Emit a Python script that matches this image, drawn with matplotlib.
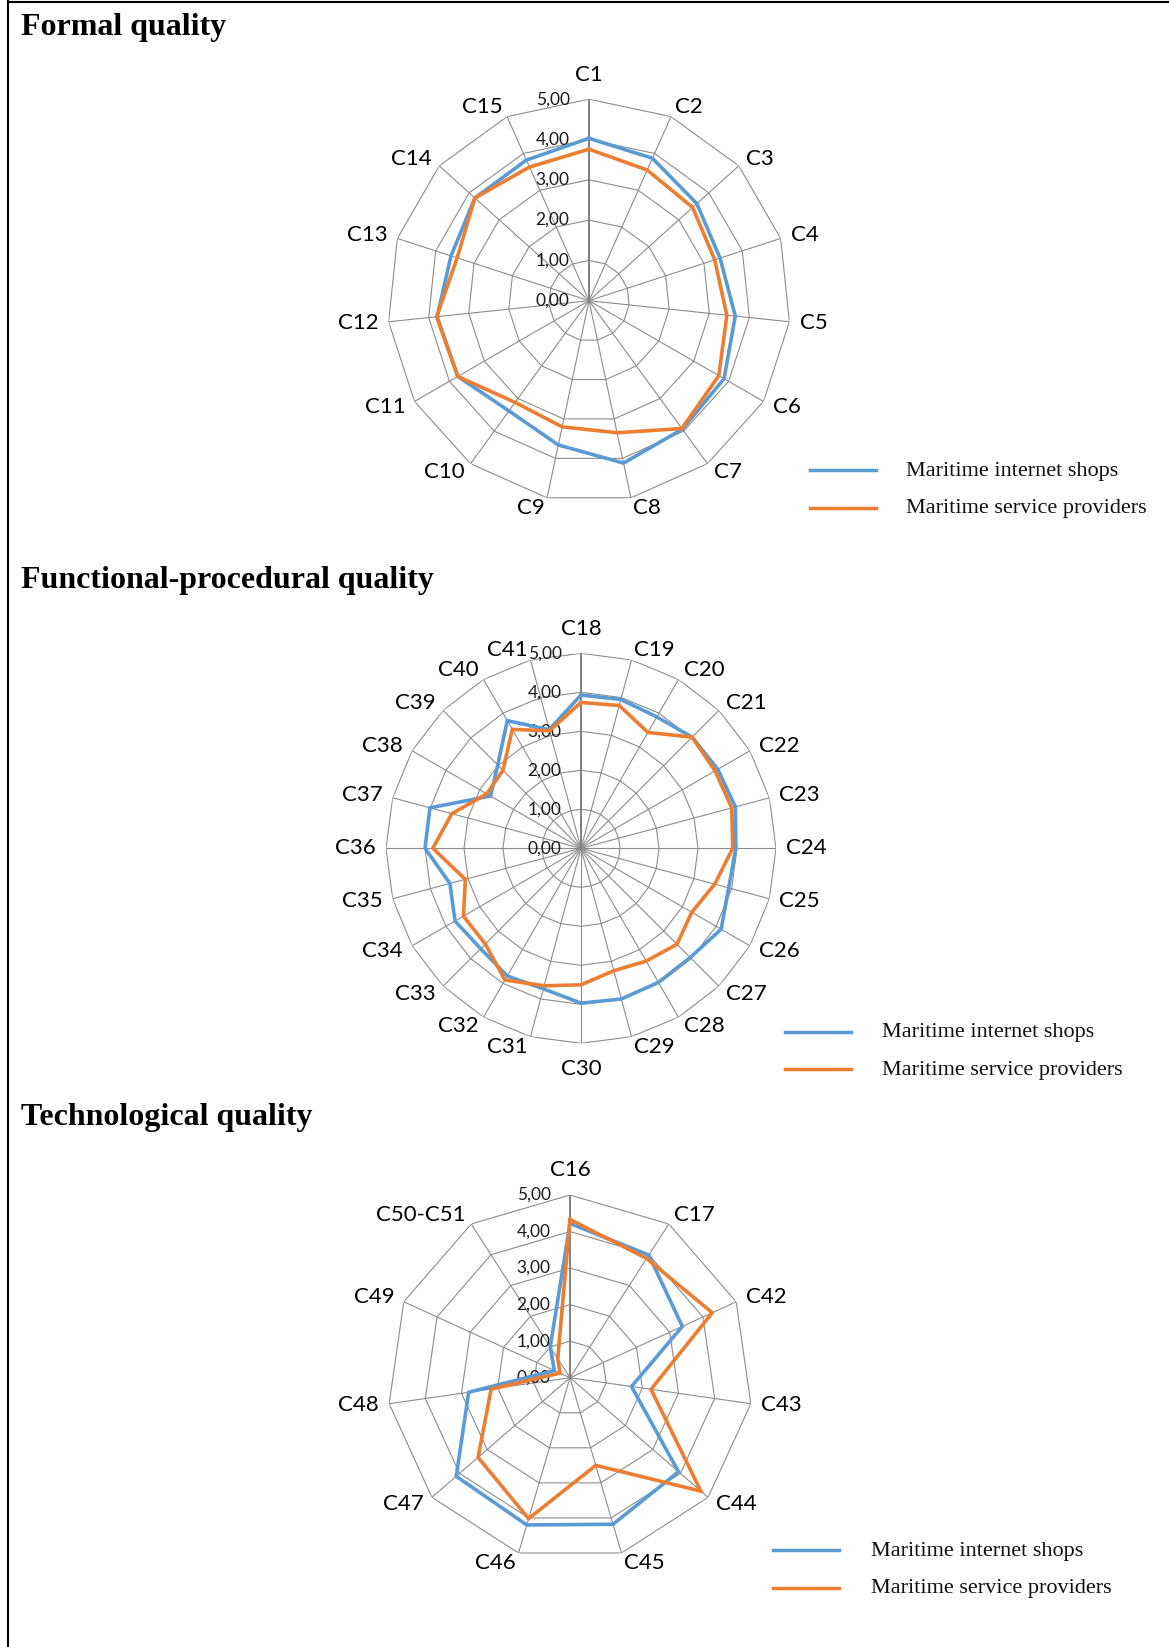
import numpy as np
import matplotlib.pyplot as plt
from matplotlib.lines import Line2D

# values
formal_cats = ["C1", "C2", "C3", "C4", "C5", "C6", "C7", "C8", "C9", "C10",
               "C11", "C12", "C13", "C14", "C15"]
formal_shops = [4.03, 3.87, 3.60, 3.42, 3.65, 3.87, 3.94, 4.12, 3.66, 3.38,
                3.76, 3.79, 3.60, 3.81, 3.82]
formal_prov = [3.76, 3.55, 3.46, 3.28, 3.44, 3.72, 3.92, 3.35, 3.20, 3.12,
               3.76, 3.80, 3.44, 3.81, 3.63]

func_cats = ["C18", "C19", "C20", "C21", "C22", "C23", "C24", "C25", "C26",
             "C27", "C28", "C29", "C30", "C31", "C32", "C33", "C34", "C35",
             "C36", "C37", "C38", "C39", "C40", "C41"]
func_shops = [3.93, 3.95, 3.89, 4.03, 4.05, 4.10, 3.97, 3.92, 4.15, 3.96,
              3.97, 4.00, 3.97, 3.73, 3.78, 3.64, 3.73, 3.48, 4.00, 4.01,
              2.68, 3.02, 3.78, 3.15]
func_prov = [3.74, 3.79, 3.43, 4.03, 3.97, 4.00, 3.89, 3.55, 3.28, 3.48,
             3.34, 3.25, 3.50, 3.65, 3.90, 3.47, 3.48, 3.07, 3.80, 3.43,
             2.79, 2.83, 3.52, 3.12]

tech_cats = ["C16", "C17", "C42", "C43", "C44", "C45", "C46", "C47", "C48",
             "C49", "C50-C51"]
tech_shops = [4.22, 3.99, 3.38, 1.70, 3.93, 4.18, 4.20, 4.12, 2.80, 0.47, 1.00]
tech_prov = [4.33, 3.88, 4.28, 2.24, 4.74, 2.50, 4.02, 3.33, 2.18, 0.30, 0.62]

series_names = ["Maritime internet shops", "Maritime service providers"]
tick_labels = ["0,00", "1,00", "2,00", "3,00", "4,00", "5,00"]

BLUE = "#5B9BD5"
ORANGE = "#ED7D31"
GRID = "#8C8C8C"
AXIS = "#7F7F7F"

W, H = 1169, 1647
fig = plt.figure(figsize=(W / 100, H / 100), dpi=100)


def radar(cx, cy, R, cats, shops, prov):
    rect = [(cx - R) / W, (H - cy - R) / H, 2 * R / W, 2 * R / H]
    ax = fig.add_axes(rect, projection="polar")
    ax.set_theta_zero_location("N")
    ax.set_theta_direction(-1)
    ax.set_ylim(0, 5)
    ax.grid(False)
    ax.set_xticks([])
    ax.set_yticks([])
    ax.spines["polar"].set_visible(False)
    ax.patch.set_visible(False)

    n = len(cats)
    ang = np.arange(n) * 2 * np.pi / n
    ring = np.append(ang, ang[0])
    for v in range(1, 6):
        ax.plot(ring, [v] * (n + 1), color=GRID, lw=0.8, zorder=1)
    for a in ang[1:]:
        ax.plot([a, a], [0, 5], color=GRID, lw=0.8, zorder=1)
    ax.plot([0, 0], [0, 5], color=AXIS, lw=1.4, zorder=1)

    for v, t in enumerate(tick_labels):
        ax.annotate(t, (0, v), xytext=(-14, 0), textcoords="offset points",
                    ha="right", va="center", fontsize=12.5, family="Lato",
                    color="#1a1a1a")

    for a, c in zip(ang, cats):
        s, co = np.sin(a), np.cos(a)
        if abs(s) < 0.05:
            ha = "center"
            if co > 0:
                va, dx, dy = "bottom", 0, 10.5
            else:
                va, dx, dy = "top", 0, -11
        else:
            ha = "left" if s > 0 else "right"
            va = "center"
            dx, dy = s * 7.5, co * 7.5
        ax.annotate(c, (a, 5), xytext=(dx, dy), textcoords="offset points",
                    ha=ha, va=va, fontsize=16, family="Lato", color="black",
                    annotation_clip=False)

    ax.plot(ring, list(shops) + [shops[0]], color=BLUE, lw=2.6, zorder=3,
            solid_joinstyle="miter")
    ax.plot(ring, list(prov) + [prov[0]], color=ORANGE, lw=2.6, zorder=4,
            solid_joinstyle="miter")
    return ax


def legend(x0, y0, y1, tx):
    for y, col, name in [(y0, BLUE, series_names[0]), (y1, ORANGE, series_names[1])]:
        fig.add_artist(Line2D([x0 / W, (x0 + 66) / W], [1 - y / H, 1 - y / H],
                              color=col, lw=2.5, transform=fig.transFigure))
        fig.text(tx / W, 1 - (y + 1.5) / H, name, ha="left", va="center",
                 fontsize=16, family="Liberation Serif", color="#111111")


def title(y, txt):
    fig.text(21 / W, 1 - y / H, txt, ha="left", va="baseline", fontsize=23,
             family="Liberation Serif", fontweight="bold")


title(35, "Formal quality")
radar(589, 300.7, 201.5, formal_cats, formal_shops, formal_prov)
legend(810, 470, 507.5, 906)

title(588, "Functional-procedural quality")
radar(581, 848.3, 195, func_cats, func_shops, func_prov)
legend(785, 1031.5, 1069, 882)

title(1125, "Technological quality")
radar(570, 1377.7, 182.7, tech_cats, tech_shops, tech_prov)
legend(773, 1550, 1587.5, 871)

# frame of the table cell
fig.add_artist(Line2D([7.5 / W, 7.5 / W], [0, 1], color="black", lw=1.5,
                      transform=fig.transFigure))
fig.add_artist(Line2D([7.5 / W, 1], [1 - 1.5 / H, 1 - 1.5 / H], color="black",
                      lw=1.5, transform=fig.transFigure))

fig.savefig("out.png", dpi=100)
